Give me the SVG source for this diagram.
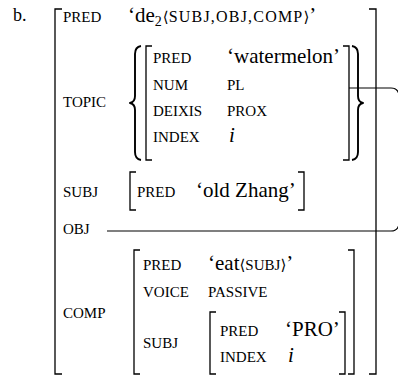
<svg xmlns="http://www.w3.org/2000/svg" width="398" height="377" viewBox="0 0 398 377">
  <style>
    text { font-family: "Liberation Serif", "Times New Roman", serif; fill: #000; }
    .lab { font-size: 15px; }
    .val { font-size: 21px; }
    .sc { font-size: 16px; letter-spacing: 1.2px; }
    .sc2 { font-size: 15px; }
    .sub { font-size: 14px; }
    .ang { font-size: 15px; font-family: "DejaVu Serif", serif; }
    .it { font-style: italic; }
    .br { fill: none; stroke: #000; stroke-width: 1.3; }
    .brace { fill: none; stroke: #000; stroke-width: 1.9; stroke-linejoin: round; }
    .conn { fill: none; stroke: #000; stroke-width: 1.2; }
  </style>
  <rect width="398" height="377" fill="#fff"/>

  <text x="13" y="21" style="font-size:18px">b.</text>

  <!-- outer f-structure -->
  <g id="fs-outer">
    <path class="br" d="M62,9 H55 V374 H62"/>
    <path class="br" d="M369,9 H376 V374 H369"/>
    <text class="lab" x="63" y="22">PRED</text>
    <text x="128" y="22"><tspan class="val">‘de</tspan><tspan class="sub" dy="4">2</tspan><tspan class="ang" dy="-4" dx="1">⟨</tspan><tspan class="sc">SUBJ,OBJ,COMP</tspan><tspan class="ang">⟩</tspan><tspan class="val">’</tspan></text>
  </g>

  <!-- TOPIC set -->
  <g id="topic">
    <text class="lab" x="63" y="107">TOPIC</text>
    <path class="brace" d="M141,46 Q135,47 135,54 V96 Q135,102 130,103 Q135,104 135,110 V152 Q135,159 141,160"/>
    <path class="brace" d="M352,46 Q358,47 358,54 V96 Q358,102 363,103 Q358,104 358,110 V152 Q358,159 352,160"/>
    <path class="br" d="M152,46 H146 V160 H152"/>
    <path class="br" d="M343,46 H349 V160 H343"/>
    <text class="lab" x="153" y="63">PRED</text>
    <text class="val" x="227" y="63">‘watermelon’</text>
    <text class="lab" x="153" y="90">NUM</text>
    <text class="lab" x="227" y="90">PL</text>
    <text class="lab" x="153" y="116">DEIXIS</text>
    <text class="lab" x="227" y="116">PROX</text>
    <text class="lab" x="153" y="142">INDEX</text>
    <text class="val it" x="229" y="142">i</text>
  </g>

  <!-- SUBJ -->
  <g id="subj">
    <text class="lab" x="63" y="197">SUBJ</text>
    <path class="br" d="M136,172 H130 V210 H136"/>
    <path class="br" d="M298,172 H304 V210 H298"/>
    <text class="lab" x="137" y="197">PRED</text>
    <text class="val" x="196" y="197">‘old Zhang’</text>
  </g>

  <!-- OBJ -->
  <g id="obj">
    <text class="lab" x="63" y="234">OBJ</text>
  </g>

  <!-- COMP -->
  <g id="comp">
    <text class="lab" x="63" y="318">COMP</text>
    <path class="br" d="M140,250 H134 V374 H140"/>
    <path class="br" d="M348,250 H354 V374 H348"/>
    <text class="lab" x="143" y="270">PRED</text>
    <text x="208" y="270"><tspan class="val">‘eat</tspan><tspan class="ang">⟨</tspan><tspan class="sc2">SUBJ</tspan><tspan class="ang">⟩</tspan><tspan class="val">’</tspan></text>
    <text class="lab" x="143" y="297">VOICE</text>
    <text class="lab" x="208" y="297">PASSIVE</text>
    <text class="lab" x="143" y="348">SUBJ</text>
  </g>

  <g id="comp-subj">
    <path class="br" d="M216,312 H210 V374 H216"/>
    <path class="br" d="M339,312 H345 V374 H339"/>
    <text class="lab" x="220" y="336">PRED</text>
    <text class="val" x="285" y="336">‘PRO’</text>
    <text class="lab" x="220" y="362">INDEX</text>
    <text class="val it" x="288" y="362">i</text>
  </g>

  <!-- structure-sharing line linking TOPIC and OBJ -->
  <g id="connectors">
    <path class="conn" d="M349,88 H391 Q398,88 399,95 V224 Q398,231 391,231 H107"/>
  </g>
</svg>
